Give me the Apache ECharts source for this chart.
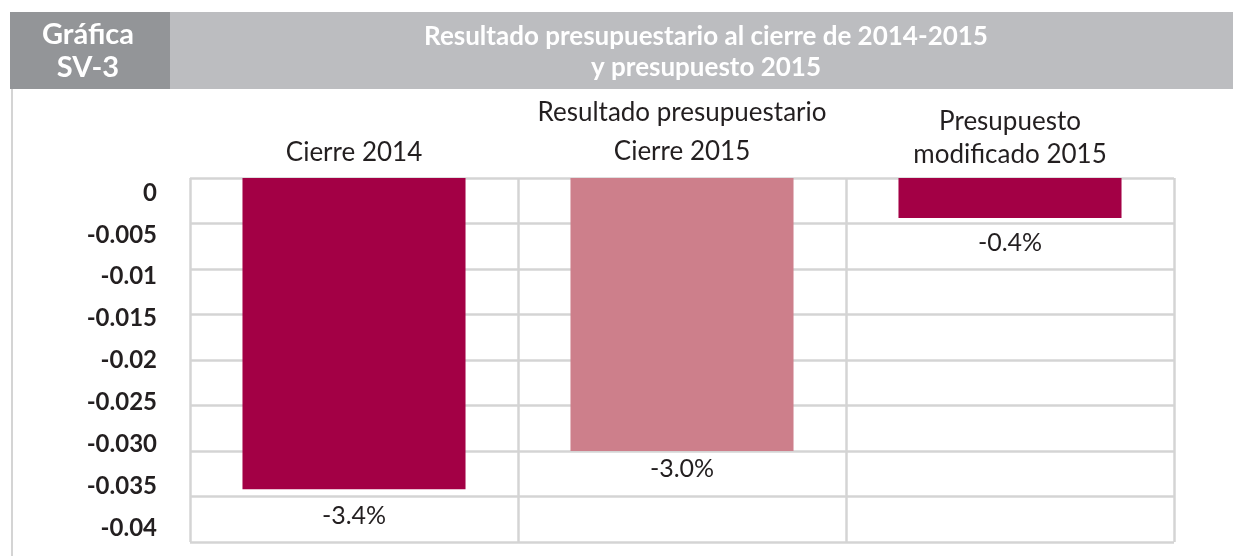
<!DOCTYPE html>
<html>
<head>
<meta charset="utf-8">
<script src="https://cdn.jsdelivr.net/npm/echarts@6/dist/echarts.min.js"></script>
<style>
  html, body { margin: 0; padding: 0; background: #fff; }
  #chart { width: 1233px; height: 556px; }
</style>
</head>
<body>
<div id="chart"></div>
<script>
// datos
const categories = ["Cierre 2014", "Resultado presupuestario\nCierre 2015", "Presupuesto\nmodificado 2015"];
const values = [-0.0342, -0.0300, -0.0044];
const barColors = ["#a30045", "#cd7f8b", "#a30045"];
const labelDistances = [14, 5, 12];
const yTickLabels = ["0", "-0.005", "-0.01", "-0.015", "-0.02", "-0.025", "-0.030", "-0.035", "-0.04"];

const chart = echarts.init(document.getElementById("chart"));

const catStyle = ["c", "m", "r"];

const option = {
  animation: false,
  textStyle: { fontFamily: "Lato" },
  graphic: [
    { type: "rect", shape: { x: 10, y: 12, width: 160, height: 77 }, style: { fill: "#939598" } },
    { type: "rect", shape: { x: 170, y: 12, width: 1063, height: 77 }, style: { fill: "#bcbdc0" } },
    { type: "rect", shape: { x: 11, y: 89, width: 2, height: 467 }, style: { fill: "#d4d4d4" } },
    {
      type: "text", x: 88, y: 51,
      style: {
        text: "Gráfica\nSV-3", fill: "#fff", font: "bold 29px Lato",
        align: "center", verticalAlign: "middle", lineHeight: 33
      }
    },
    {
      type: "text", x: 706, y: 52,
      style: {
        text: "Resultado presupuestario al cierre de 2014-2015\ny presupuesto 2015", fill: "#fff",
        font: "bold 26px Lato", align: "center", verticalAlign: "middle", lineHeight: 31
      }
    }
  ],
  grid: [
    { left: 190, right: 59, top: 178, bottom: 14 },
    // las etiquetas del eje Y van en su propia escala, un poco desplazadas
    { left: 190, right: 59, top: 193, bottom: 28 }
  ],
  xAxis: [
    {
      type: "category",
      gridIndex: 0,
      position: "top",
      data: categories,
      axisLine: { show: false },
      axisTick: { show: false },
      splitLine: { show: true, interval: 0, lineStyle: { color: "#d4d4d4", width: 2.5 } },
      axisLabel: {
        interval: 0,
        margin: 6.5,
        formatter: function (v, i) {
          const st = catStyle[i];
          return v.split("\n").map(l => "{" + st + "|" + l + "}").join("\n");
        },
        rich: {
          c: { fontSize: 26, lineHeight: 37, color: "#231f20", fontFamily: "Lato" },
          m: { fontSize: 26, lineHeight: 39, color: "#231f20", fontFamily: "Lato" },
          r: { fontSize: 26, lineHeight: 33, color: "#231f20", fontFamily: "Lato" }
        }
      }
    },
    { type: "category", gridIndex: 1, data: categories, show: false }
  ],
  yAxis: [
    {
      type: "value",
      gridIndex: 0,
      min: -0.04,
      max: 0,
      interval: 0.005,
      axisLine: { show: false },
      axisTick: { show: false },
      axisLabel: { show: false },
      splitLine: { show: true, lineStyle: { color: "#d4d4d4", width: 2.5 } }
    },
    {
      type: "value",
      gridIndex: 1,
      min: -0.04,
      max: 0,
      interval: 0.005,
      axisLine: { show: false },
      axisTick: { show: false },
      splitLine: { show: false },
      axisLabel: {
        margin: 33,
        color: "#231f20",
        fontSize: 24,
        fontWeight: "bold",
        fontFamily: "Lato",
        formatter: function (v) {
          return yTickLabels[Math.round(-v / 0.005)];
        }
      }
    }
  ],
  series: [
    {
      type: "bar",
      xAxisIndex: 0,
      yAxisIndex: 0,
      barWidth: "68%",
      data: values.map((v, i) => ({
        value: v,
        itemStyle: { color: barColors[i] },
        label: { distance: labelDistances[i] }
      })),
      label: {
        show: true,
        position: "bottom",
        color: "#231f20",
        fontSize: 25,
        fontFamily: "Lato",
        formatter: p => (p.value * 100).toFixed(1) + "%"
      }
    }
  ]
};

chart.setOption(option);
</script>
</body>
</html>
